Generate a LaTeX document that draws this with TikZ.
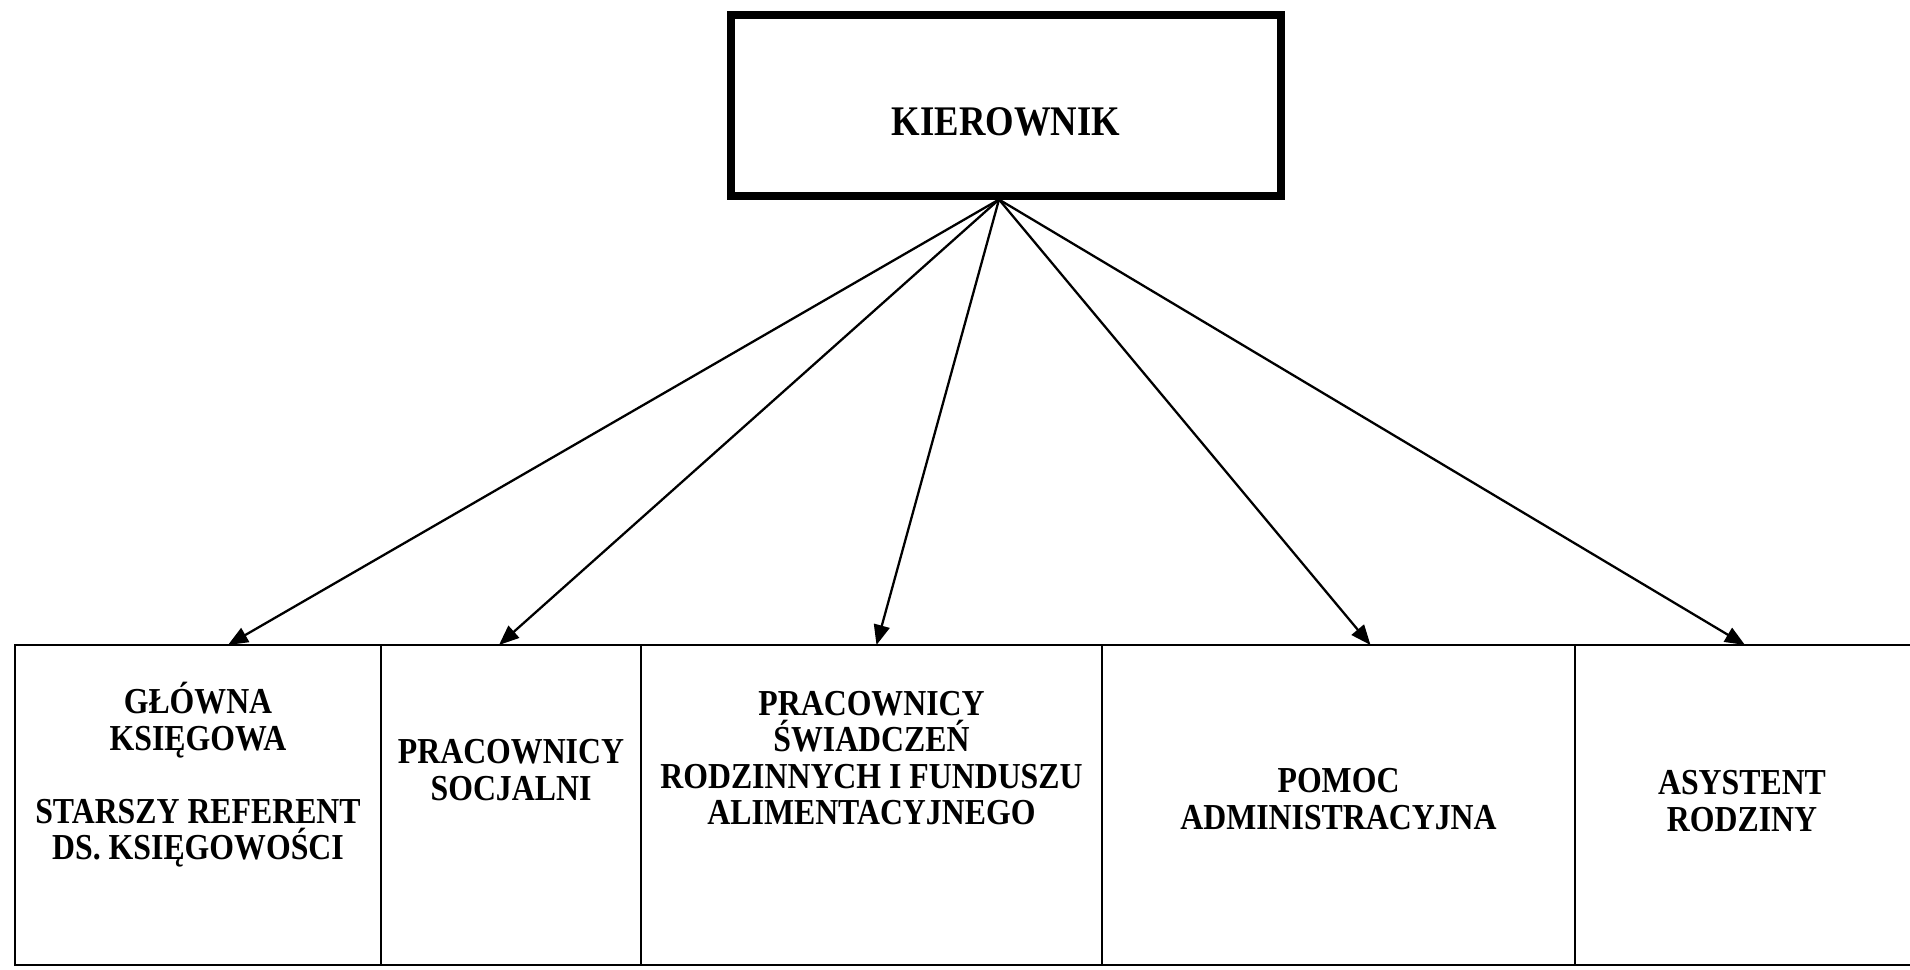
\documentclass[tikz,border=0pt]{standalone}
\usepackage{fontspec}
\setmainfont{Liberation Serif}[FakeStretch=0.87]
\usetikzlibrary{shapes, arrows.meta}
\usetikzlibrary{positioning}
\tikzstyle{headbox} = [rectangle, minimum width=5.5cm, minimum height=1.81cm, text height=0.6cm, text depth=0cm, text centered, draw=black, line width=2pt, font=\fontsize{12}{12}\selectfont\bfseries]
\tikzstyle{cell} = [rectangle, minimum height=3.2cm, outer sep=0pt, draw=black, line width=0.8pt]
\tikzstyle{celltext} = [align=center, font=\fontsize{10.4}{10.4}\selectfont\bfseries]
\tikzstyle{arrow} = [line width=0.65pt, -{Triangle[length=2mm, width=1.6mm]}]

\begin{document}
\begin{tikzpicture}
    \useasboundingbox (0,0) rectangle (19.1,9.69);

    % Nodes
    \node (kier) [headbox] at (10.06,8.635) {KIEROWNIK};
    \node (b1) [cell, minimum width=3.66cm, anchor=north west] at (0.15,3.24) {};
    \node (b2) [cell, minimum width=2.60cm, right=0pt of b1] {};
    \node (b3) [cell, minimum width=4.61cm, right=0pt of b2] {};
    \node (b4) [cell, minimum width=4.73cm, right=0pt of b3] {};
    \node (b5) [cell, minimum width=3.40cm, right=0pt of b4] {};

    % Texts
    \node (t1) [celltext] at ([yshift=3mm]b1.center) {GŁÓWNA\\KSIĘGOWA\\[10.4pt]STARSZY REFERENT\\DS. KSIĘGOWOŚCI};
    \node (t2) [celltext] at ([yshift=3.5mm]b2.center) {PRACOWNICY\\SOCJALNI};
    \node (t3) [celltext] at ([yshift=4.7mm]b3.center) {PRACOWNICY\\ŚWIADCZEŃ\\RODZINNYCH I FUNDUSZU\\ALIMENTACYJNEGO};
    \node (t4) [celltext] at ([yshift=0.6mm]b4.center) {POMOC\\ADMINISTRACYJNA};
    \node (t5) [celltext] at ([xshift=-0.3mm, yshift=0.4mm]b5.center) {ASYSTENT\\RODZINY};

    % Arrows
    \draw [arrow] ([xshift=-0.7mm]kier.south) -- ([xshift=3mm]b1.north);
    \draw [arrow] ([xshift=-0.7mm]kier.south) -- ([xshift=-1.2mm]b2.north);
    \draw [arrow] ([xshift=-0.7mm]kier.south) -- ([xshift=0.5mm]b3.north);
    \draw [arrow] ([xshift=-0.7mm]kier.south) -- ([xshift=3.2mm]b4.north);
    \draw [arrow] ([xshift=-0.7mm]kier.south) -- (b5.north);

\end{tikzpicture}
\end{document}
